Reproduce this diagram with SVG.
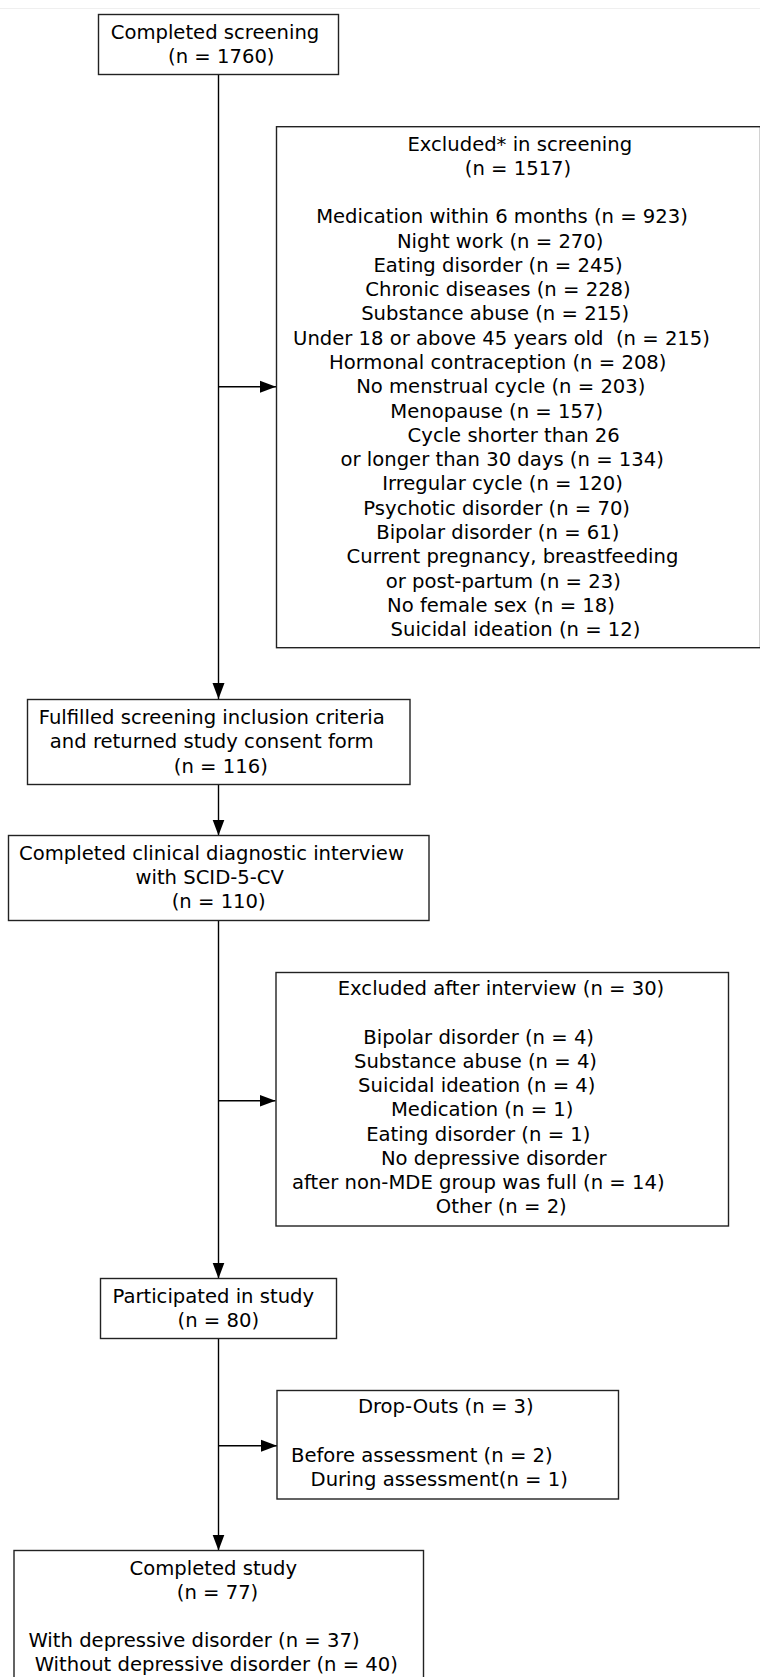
<svg xmlns="http://www.w3.org/2000/svg" width="760" height="1677" viewBox="0 0 760 1677">
<style>
.box{fill:#fff;stroke:#222;stroke-width:1.4}
.t{font-family:"DejaVu Sans","Verdana",sans-serif;font-size:19.6px;fill:#000;text-anchor:middle}
.c{stroke:#000;stroke-width:1.4;fill:none}
</style>
<defs>
<marker id="ah" markerUnits="userSpaceOnUse" markerWidth="18" markerHeight="14" refX="16" refY="7" orient="auto">
<path d="M0,1 L16,7 L0,13 Z" fill="#000"/>
</marker>
</defs>
<rect width="760" height="1677" fill="#fff"/>
<line x1="0" y1="8.5" x2="760" y2="8.5" stroke="#efefef" stroke-width="1"/>
<g id="connectors">
<line class="c" x1="218.5" y1="74.5" x2="218.5" y2="699" marker-end="url(#ah)"/>
<line class="c" x1="218.5" y1="386.7" x2="276" y2="386.7" marker-end="url(#ah)"/>
<line class="c" x1="218.5" y1="784.5" x2="218.5" y2="835.5" marker-end="url(#ah)"/>
<line class="c" x1="218.5" y1="920.5" x2="218.5" y2="1278.5" marker-end="url(#ah)"/>
<line class="c" x1="218.5" y1="1100.7" x2="275.5" y2="1100.7" marker-end="url(#ah)"/>
<line class="c" x1="218.5" y1="1338.5" x2="218.5" y2="1550.5" marker-end="url(#ah)"/>
<line class="c" x1="218.5" y1="1445.7" x2="277" y2="1445.7" marker-end="url(#ah)"/>
</g>
<g id="n1">
<rect class="box" x="98.5" y="14.5" width="240" height="60"/>
<text class="t" x="215" y="39.3">Completed screening</text>
<text class="t" x="221.3" y="63.3">(n = 1760)</text>
</g>
<g id="n2">
<rect class="box" x="276.5" y="126.7" width="484" height="521"/>
<text class="t" x="519.8" y="150.7">Excluded* in screening</text>
<text class="t" x="518" y="175">(n = 1517)</text>
<text class="t" x="502" y="223.3">Medication within 6 months (n = 923)</text>
<text class="t" x="500.2" y="247.5">Night work (n = 270)</text>
<text class="t" x="498" y="271.8">Eating disorder (n = 245)</text>
<text class="t" x="498" y="296.1">Chronic diseases (n = 228)</text>
<text class="t" x="495.2" y="320.4">Substance abuse (n = 215)</text>
<text class="t" x="501.5" y="344.7" xml:space="preserve">Under 18 or above 45 years old  (n = 215)</text>
<text class="t" x="497.7" y="369">Hormonal contraception (n = 208)</text>
<text class="t" x="500.8" y="393.3">No menstrual cycle (n = 203)</text>
<text class="t" x="496.7" y="417.5">Menopause (n = 157)</text>
<text class="t" x="513.7" y="441.8">Cycle shorter than 26</text>
<text class="t" x="502.2" y="466.1">or longer than 30 days (n = 134)</text>
<text class="t" x="502.5" y="490.4">Irregular cycle (n = 120)</text>
<text class="t" x="496.7" y="514.7">Psychotic disorder (n = 70)</text>
<text class="t" x="497.8" y="539">Bipolar disorder (n = 61)</text>
<text class="t" x="512.5" y="563.3">Current pregnancy, breastfeeding</text>
<text class="t" x="503.3" y="587.5">or post-partum (n = 23)</text>
<text class="t" x="501" y="611.8">No female sex (n = 18)</text>
<text class="t" x="515.5" y="636.1">Suicidal ideation (n = 12)</text>
</g>
<g id="n3">
<rect class="box" x="27.5" y="699.5" width="382.5" height="85"/>
<text class="t" x="211.7" y="724">Fulfilled screening inclusion criteria</text>
<text class="t" x="211.7" y="748.3">and returned study consent form</text>
<text class="t" x="220.8" y="772.7">(n = 116)</text>
</g>
<g id="n4">
<rect class="box" x="8.5" y="835.5" width="420.5" height="85"/>
<text class="t" x="211.5" y="860">Completed clinical diagnostic interview</text>
<text class="t" x="209.7" y="884.2">with SCID-5-CV</text>
<text class="t" x="218.7" y="908.4">(n = 110)</text>
</g>
<g id="n5">
<rect class="box" x="276" y="972.5" width="452.5" height="253.5"/>
<text class="t" x="501" y="995">Excluded after interview (n = 30)</text>
<text class="t" x="478.7" y="1043.6">Bipolar disorder (n = 4)</text>
<text class="t" x="475.5" y="1067.8">Substance abuse (n = 4)</text>
<text class="t" x="476.8" y="1092.1">Suicidal ideation (n = 4)</text>
<text class="t" x="482.2" y="1116.4">Medication (n = 1)</text>
<text class="t" x="478.3" y="1140.7">Eating disorder (n = 1)</text>
<text class="t" x="493.7" y="1165">No depressive disorder</text>
<text class="t" x="478.3" y="1189.3">after non-MDE group was full (n = 14)</text>
<text class="t" x="501.3" y="1213.4">Other (n = 2)</text>
</g>
<g id="n6">
<rect class="box" x="100.5" y="1278.5" width="236" height="60"/>
<text class="t" x="213.3" y="1303.3">Participated in study</text>
<text class="t" x="218.3" y="1327.3">(n = 80)</text>
</g>
<g id="n7">
<rect class="box" x="277" y="1390.5" width="341.5" height="108.5"/>
<text class="t" x="445.8" y="1413.3">Drop-Outs (n = 3)</text>
<text class="t" x="421.8" y="1461.7">Before assessment (n = 2)</text>
<text class="t" x="439.2" y="1486">During assessment(n = 1)</text>
</g>
<g id="n8">
<rect class="box" x="14" y="1550.5" width="409.5" height="140"/>
<text class="t" x="213.3" y="1575">Completed study</text>
<text class="t" x="217.5" y="1599.3">(n = 77)</text>
<text class="t" x="194" y="1647.3">With depressive disorder (n = 37)</text>
<text class="t" x="216.3" y="1671">Without depressive disorder (n = 40)</text>
</g>
</svg>
